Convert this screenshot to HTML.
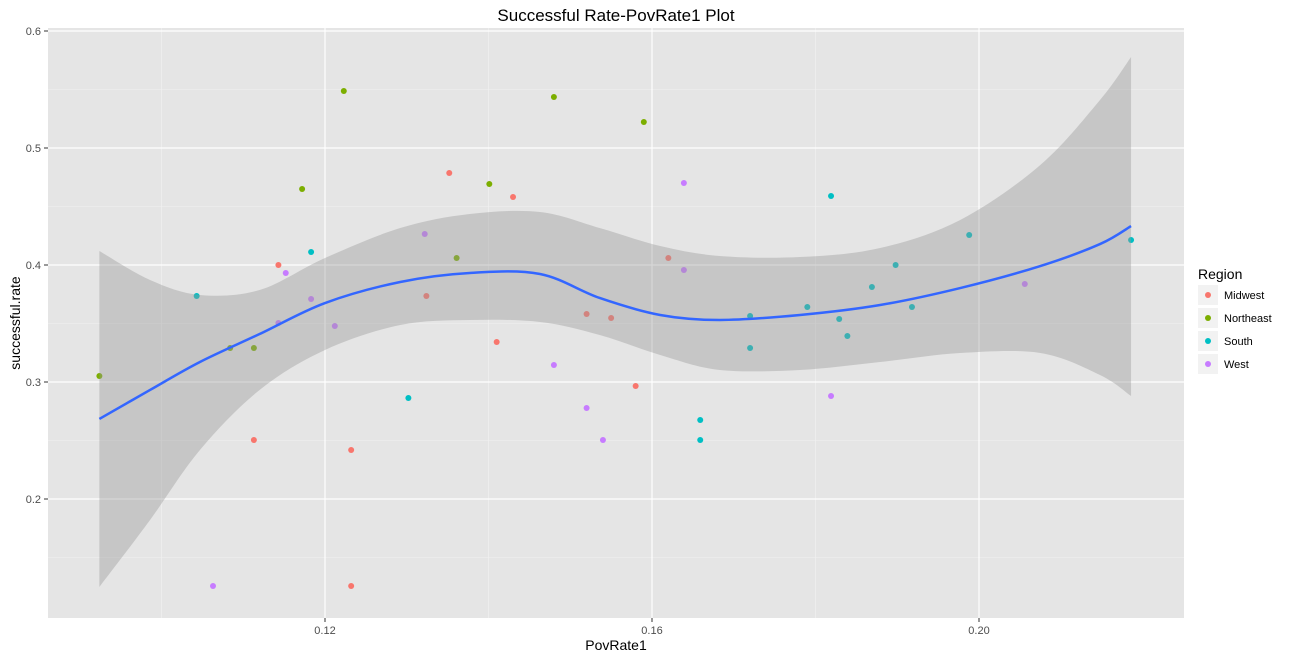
<!DOCTYPE html>
<html><head><meta charset="utf-8"><style>
body{margin:0;background:#fff;font-family:"Liberation Sans",sans-serif;}
svg text{font-family:"Liberation Sans",sans-serif;}
</style></head><body>
<svg id="chart" width="1298" height="655">
<text x="616" y="21" text-anchor="middle" font-size="17" fill="#000">Successful Rate-PovRate1 Plot</text>
<rect x="48" y="28" width="1136" height="590" fill="#e5e5e5"/>
<g id="grid"></g><g id="pts"></g><g id="band"></g><g id="axes"></g>
<text x="616" y="650" text-anchor="middle" font-size="14">PovRate1</text>
<text transform="translate(20,323) rotate(-90)" text-anchor="middle" font-size="14">successful.rate</text>
<g id="legend">
<text x="1198" y="279" font-size="14">Region</text>
</g>
</svg>
<script>
const mwX=[0.1143,0.1113,0.1232,0.1232,0.1352,0.1324,0.1410,0.1430,0.1520,0.1550,0.1580,0.1620];
const mwY=[0.400,0.2504,0.2419,0.1256,0.4786,0.3735,0.3342,0.4581,0.3581,0.3547,0.2966,0.406];
const neX=[0.0924,0.1084,0.1113,0.1172,0.1223,0.1361,0.1401,0.1480,0.1590];
const neY=[0.3051,0.3291,0.3291,0.465,0.5487,0.406,0.4692,0.5436,0.5222];
const soX=[0.1043,0.1183,0.1302,0.1659,0.1659,0.1720,0.1720,0.1790,0.1819,0.1829,0.1839,0.1869,0.1898,0.1918,0.1988,0.2186];
const soY=[0.3735,0.4111,0.2863,0.2675,0.2504,0.3564,0.3291,0.3641,0.459,0.3538,0.3393,0.3812,0.400,0.3641,0.4256,0.4214];
const weX=[0.1063,0.1143,0.1152,0.1183,0.1212,0.1322,0.1480,0.1520,0.1540,0.1639,0.1639,0.1819,0.2056];
const weY=[0.1256,0.3504,0.3932,0.3709,0.3479,0.4265,0.3145,0.2778,0.2504,0.4701,0.3957,0.288,0.3838];
const smX=[0.0924,0.0986,0.1047,0.1120,0.12,0.1292,0.1377,0.1463,0.1536,0.1610,0.1683,0.1781,0.1879,0.1977,0.2075,0.2148,0.2186];
const smFit=[0.2684,0.2932,0.3171,0.3410,0.3675,0.3855,0.3932,0.3923,0.3718,0.3573,0.3530,0.3573,0.3658,0.3803,0.3991,0.4179,0.4333];
const smHi=[0.412,0.3872,0.3744,0.3786,0.406,0.4316,0.4436,0.4453,0.4316,0.4162,0.4077,0.4068,0.4145,0.4385,0.4855,0.541,0.5778];
const smLo=[0.1248,0.1821,0.2419,0.2932,0.3274,0.3487,0.353,0.3513,0.3402,0.3231,0.3103,0.3103,0.3171,0.3248,0.3248,0.306,0.288];
const xTicks=[0.12,0.16,0.20];
const yTicks=[0.2,0.3,0.4,0.5,0.6];
const regions=["Midwest","Northeast","South","West"];
const colors=["#F8766D","#7CAE00","#00BFC4","#C77CFF"];

const NS="http://www.w3.org/2000/svg";
const X=v=>325+(v-0.12)*8175;
const Y=v=>499-(v-0.2)*1170;
function mk(tag,attrs,parent){const e=document.createElementNS(NS,tag);for(const k in attrs)e.setAttribute(k,attrs[k]);document.getElementById(parent).appendChild(e);return e;}
function spline(p,start){let d=start?('M'+p[0][0]+','+p[0][1]):('L'+p[0][0]+','+p[0][1]);
for(let i=0;i<p.length-1;i++){const p0=p[Math.max(i-1,0)],p1=p[i],p2=p[i+1],p3=p[Math.min(i+2,p.length-1)];
d+='C'+(p1[0]+(p2[0]-p0[0])/6)+','+(p1[1]+(p2[1]-p0[1])/6)+' '+(p2[0]-(p3[0]-p1[0])/6)+','+(p2[1]-(p3[1]-p1[1])/6)+' '+p2[0]+','+p2[1];}
return d;}
[0.10,0.14,0.18].forEach(v=>{const l=mk('line',{x1:X(v),x2:X(v),y1:28,y2:618,stroke:'#f2f2f2','stroke-width':0.6},'grid');

});
[0.15,0.25,0.35,0.45,0.55].forEach(v=>{const l=mk('line',{x1:48,x2:1184,y1:Y(v),y2:Y(v),stroke:'#f2f2f2','stroke-width':0.6},'grid');

});
xTicks.forEach(v=>{const l=mk('line',{x1:X(v),x2:X(v),y1:28,y2:618,stroke:'#fff','stroke-width':1.2},'grid');


const t=mk('line',{x1:X(v),x2:X(v),y1:618,y2:622,stroke:'#333'},'axes');


const tx=mk('text',{x:X(v),y:634,'text-anchor':'middle','font-size':11,fill:'#4d4d4d'},'axes');tx.textContent=v.toFixed(2);

});
yTicks.forEach(v=>{const l=mk('line',{x1:48,x2:1184,y1:Y(v),y2:Y(v),stroke:'#fff','stroke-width':1.2},'grid');


const t=mk('line',{x1:44,x2:48,y1:Y(v),y2:Y(v),stroke:'#333'},'axes');


const tx=mk('text',{x:41,y:Y(v)+4,'text-anchor':'end','font-size':11,fill:'#4d4d4d'},'axes');tx.textContent=v.toFixed(1);

});
const sets=[[mwX,mwY],[neX,neY],[soX,soY],[weX,weY]];
sets.forEach((s,r)=>{s[0].forEach((x,i)=>{const c=mk('circle',{cx:X(x),cy:Y(s[1][i]),r:3,fill:colors[r]},'pts');

});});
const hiP=smX.map((x,i)=>[X(x),Y(smHi[i])]);
const loP=smX.map((x,i)=>[X(x),Y(smLo[i])]).reverse();
const band=mk('path',{d:spline(hiP,true)+spline(loP,false)+'Z',fill:'#999','fill-opacity':0.4},'band');


const line=mk('path',{d:spline(smX.map((x,i)=>[X(x),Y(smFit[i])]),true),fill:'none',stroke:'#3366FF','stroke-width':2.5},'band');


regions.forEach((n,i)=>{const y=295+i*23;
const bg=mk('rect',{x:1198,y:y-10,width:20,height:20,fill:'#f2f2f2'},'legend');


const c=mk('circle',{cx:1208,cy:y,r:3,fill:colors[i]},'legend');


const t=mk('text',{x:1224,y:y+4,'font-size':11},'legend');t.textContent=n;

});
</script>
</body></html>
